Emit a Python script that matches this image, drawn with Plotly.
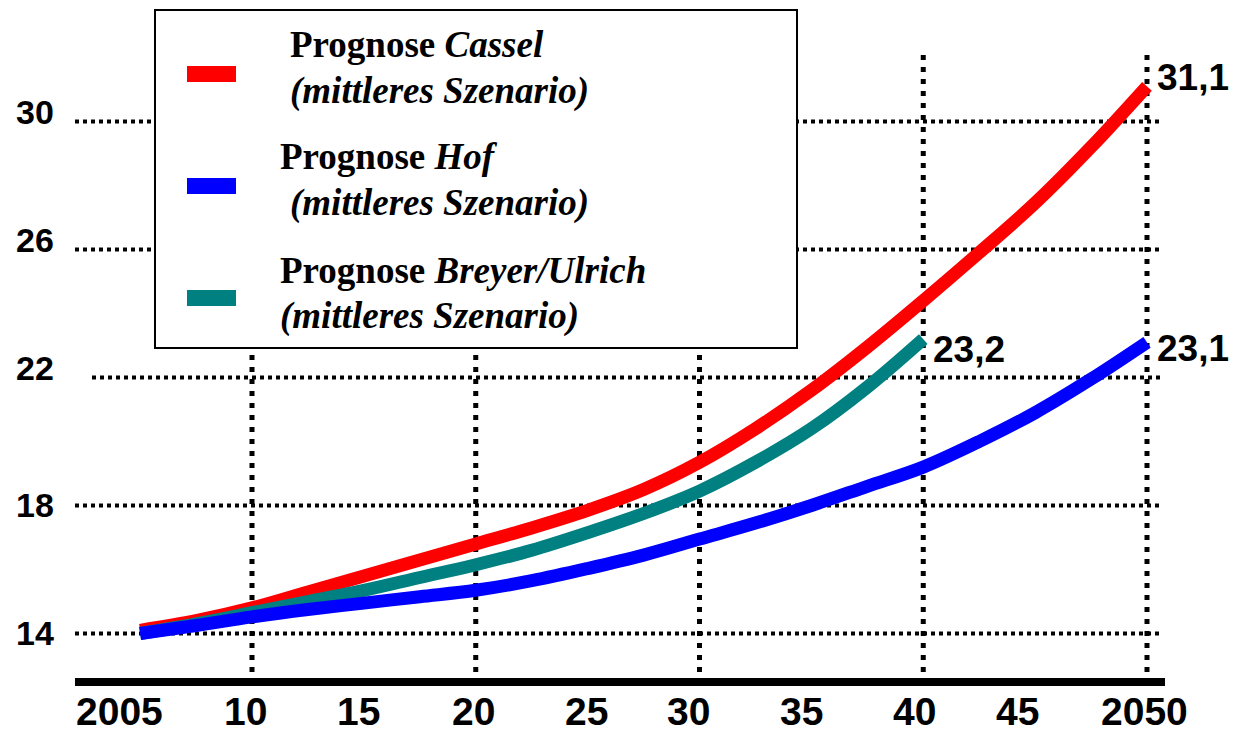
import plotly.graph_objects as go

# --- data -------------------------------------------------------------
years = [2005, 2007.5, 2010, 2012.5, 2015, 2017.5, 2020, 2022.5, 2025, 2027.5,
         2030, 2032.5, 2035, 2037.5, 2040, 2042.5, 2045, 2047.5, 2050]
cassel = [14.1, 14.4, 14.8, 15.3, 15.8, 16.3, 16.8, 17.3, 17.85, 18.5,
          19.35, 20.4, 21.6, 22.95, 24.4, 25.9, 27.45, 29.2, 31.1]
hof = [14.0, 14.25, 14.52, 14.75, 14.95, 15.15, 15.35, 15.65, 16.03, 16.45,
       16.95, 17.45, 18.0, 18.6, 19.2, 20.0, 20.9, 21.95, 23.1]

years_breyer = [2005, 2007.5, 2010, 2012.5, 2015, 2017.5, 2020, 2022.5, 2025, 2027.5,
                2030, 2032.5, 2035, 2037.5, 2040]
breyer = [14.0, 14.3, 14.65, 15.0, 15.35, 15.75, 16.15, 16.6, 17.15, 17.75,
          18.45, 19.35, 20.4, 21.7, 23.2]

x_ticks = [2005, 2010, 2015, 2020, 2025, 2030, 2035, 2040, 2045, 2050]
x_tick_text = ["2005", "10", "15", "20", "25", "30", "35", "40", "45", "2050"]
y_ticks = [14, 18, 22, 26, 30]
v_grid_years = [2010, 2020, 2030, 2040, 2050]

legend_names = ["Cassel", "Hof", "Breyer/Ulrich"]

RED, BLUE, TEAL = "#FF0000", "#0000FF", "#008080"

# --- canvas geometry (figure fills the window, axes hidden) -------------
W, H = 1234, 734
X0, XSCALE = 252.0, 22.375          # pixel of 2010, pixels per year
Y0, YSCALE = 633.5, 32.0            # pixel of value 14, pixels per unit


def yr(px):
    return 2010 + (px - X0) / XSCALE


def val(py):
    return 14 + (Y0 - py) / YSCALE


def px_x(p):
    return p / W


def px_y(p):
    return 1 - p / H


fig = go.Figure()

# curves: red underneath, teal, blue on top
for xs, ys, col in [(years, cassel, RED),
                    (years_breyer, breyer, TEAL),
                    (years, hof, BLUE)]:
    fig.add_trace(go.Scatter(x=xs, y=ys, mode="lines",
                             line=dict(color=col, width=13, shape="spline", smoothing=1.0),
                             hoverinfo="skip", showlegend=False))

shapes = []
# horizontal dotted gridlines
for v in y_ticks:
    left = 92 if v == 22 else 75
    shapes.append(dict(type="line", xref="x", yref="y", layer="below",
                       x0=yr(left), x1=yr(1160), y0=v, y1=v,
                       line=dict(color="black", width=4, dash="4px,4px")))
# vertical dotted gridlines
for g in v_grid_years:
    shapes.append(dict(type="line", xref="x", yref="y", layer="below",
                       x0=g, x1=g, y0=val(55), y1=val(672),
                       line=dict(color="black", width=5, dash="5px,7px")))
# thick base line
shapes.append(dict(type="line", xref="x", yref="y", layer="above",
                   x0=yr(75), x1=yr(1165), y0=val(682), y1=val(682),
                   line=dict(color="black", width=8)))
# legend frame
shapes.append(dict(type="rect", xref="paper", yref="paper", layer="above",
                   x0=px_x(155), x1=px_x(797), y0=px_y(348), y1=px_y(10),
                   fillcolor="white", line=dict(color="black", width=2)))
# legend swatches
for col, top in [(RED, 66), (BLUE, 178), (TEAL, 290)]:
    shapes.append(dict(type="rect", xref="paper", yref="paper", layer="above",
                       x0=px_x(187), x1=px_x(236), y0=px_y(top + 16), y1=px_y(top),
                       fillcolor=col, line=dict(width=0)))

annotations = []
serif = "Liberation Serif, Times New Roman, serif"
legend_lines = [
    (288, 45, "<b>Prognose <i>%s</i></b>" % legend_names[0]),
    (288, 91, "<b><i>(mittleres Szenario)</i></b>"),
    (278, 156, "<b>Prognose <i>%s</i></b>" % legend_names[1]),
    (288, 203, "<b><i>(mittleres Szenario)</i></b>"),
    (278, 270, "<b>Prognose <i>%s</i></b>" % legend_names[2]),
    (278, 316, "<b><i>(mittleres Szenario)</i></b>"),
]
for lx, ly, txt in legend_lines:
    annotations.append(dict(xref="paper", yref="paper", x=px_x(lx), y=px_y(ly),
                            xanchor="left", yanchor="middle", showarrow=False,
                            text=txt, font=dict(family=serif, size=37, color="black")))

sans = "Liberation Sans, Arial, sans-serif"
narrow = "Liberation Sans Narrow, Arial Narrow, Liberation Sans, Arial, sans-serif"

# y tick labels
for v in y_ticks:
    shift = 10 if v >= 22 else 1
    annotations.append(dict(xref="paper", yref="y", x=px_x(35), y=v, yshift=shift,
                            xanchor="center", yanchor="middle", showarrow=False,
                            text="<b>%d</b>" % v,
                            font=dict(family=sans, size=34, color="black")))
# x tick labels, sitting on the bottom edge of the figure
x_shift = [-21, -7, -5, -2, -1, -11, -10, -9, -18, -3]
for t, lab, s in zip(x_ticks, x_tick_text, x_shift):
    annotations.append(dict(xref="x", yref="paper", x=t, y=0, xshift=s,
                            xanchor="center", yanchor="bottom", showarrow=False,
                            borderpad=0,
                            text="<b>%s</b>" % lab,
                            font=dict(family=narrow, size=39, color="black")))


# end-value labels
def fmt(v):
    return ("%.1f" % v).replace(".", ",")


for xv, yv, ys in [(years[-1], cassel[-1], 9),
                   (years_breyer[-1], breyer[-1], -10),
                   (years[-1], hof[-1], -6)]:
    annotations.append(dict(xref="x", yref="y", x=xv, y=yv, xshift=8, yshift=ys,
                            xanchor="left", yanchor="middle", showarrow=False,
                            text="<b>%s</b>" % fmt(yv),
                            font=dict(family=sans, size=37, color="black")))

fig.update_layout(
    width=W, height=H,
    margin=dict(l=0, r=0, t=0, b=0),
    paper_bgcolor="white", plot_bgcolor="white",
    xaxis=dict(range=[yr(0), yr(W)], visible=False, fixedrange=True),
    yaxis=dict(range=[val(H), val(0)], visible=False, fixedrange=True),
    shapes=shapes, annotations=annotations, showlegend=False,
)

fig.write_html("out.html")
